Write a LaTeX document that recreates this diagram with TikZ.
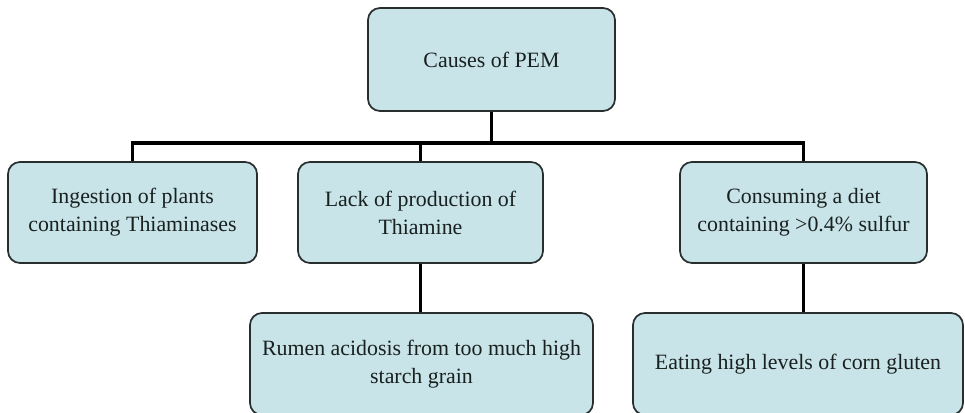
\documentclass[tikz,border=0pt]{standalone}
\usepackage{fontspec}
\setmainfont{Liberation Serif}
\definecolor{boxfill}{RGB}{200,228,232}
\definecolor{boxline}{RGB}{40,45,45}
\definecolor{txt}{RGB}{25,32,32}
\begin{document}
\begin{tikzpicture}[x=0.75pt,y=-0.75pt,
  cbox/.style={draw=boxline,fill=boxfill,line width=1.3pt,rounded corners=9pt,
    align=center,inner sep=0pt,text=txt,font=\fontsize{16.4}{21}\selectfont},
  conn/.style={draw=black,line width=2.3pt}]
\useasboundingbox (0,0) rectangle (965,413);
\fill[white] (0,0) rectangle (965,413);
\node[cbox,minimum width=185.25pt,minimum height=77.25pt] (top) at (491.5,59.5) {Causes of PEM};
\node[cbox,minimum width=186.75pt,minimum height=75.75pt] (left) at (132.5,212.5) {Ingestion of plants\\containing Thiaminases};
\node[cbox,minimum width=183.75pt,minimum height=75.75pt] (mid) at (420.5,212.5) {Lack of production of\\Thiamine};
\node[cbox,minimum width=185.25pt,minimum height=75.75pt] (right) at (803.5,212.5) {Consuming a diet\\containing >0.4\% sulfur};
\node[cbox,minimum width=257.25pt,minimum height=76.5pt] (bl) at (421.5,364) {Rumen acidosis from too much high\\starch grain};
\node[cbox,minimum width=247.5pt,minimum height=76.5pt] (br) at (798,364) {Eating high levels of corn gluten};
\coordinate (bar) at (0,143);
\draw[conn] (top.south) -- (top.south |- bar);
\draw[conn] (left.north) -- (left.north |- bar) -- (right.north |- bar) -- (right.north);
\draw[conn] (mid.north) -- (mid.north |- bar);
\draw[conn] (mid.south) -- (bl.north -| mid.south);
\draw[conn] (right.south) -- (br.north -| right.south);
\end{tikzpicture}
\end{document}
